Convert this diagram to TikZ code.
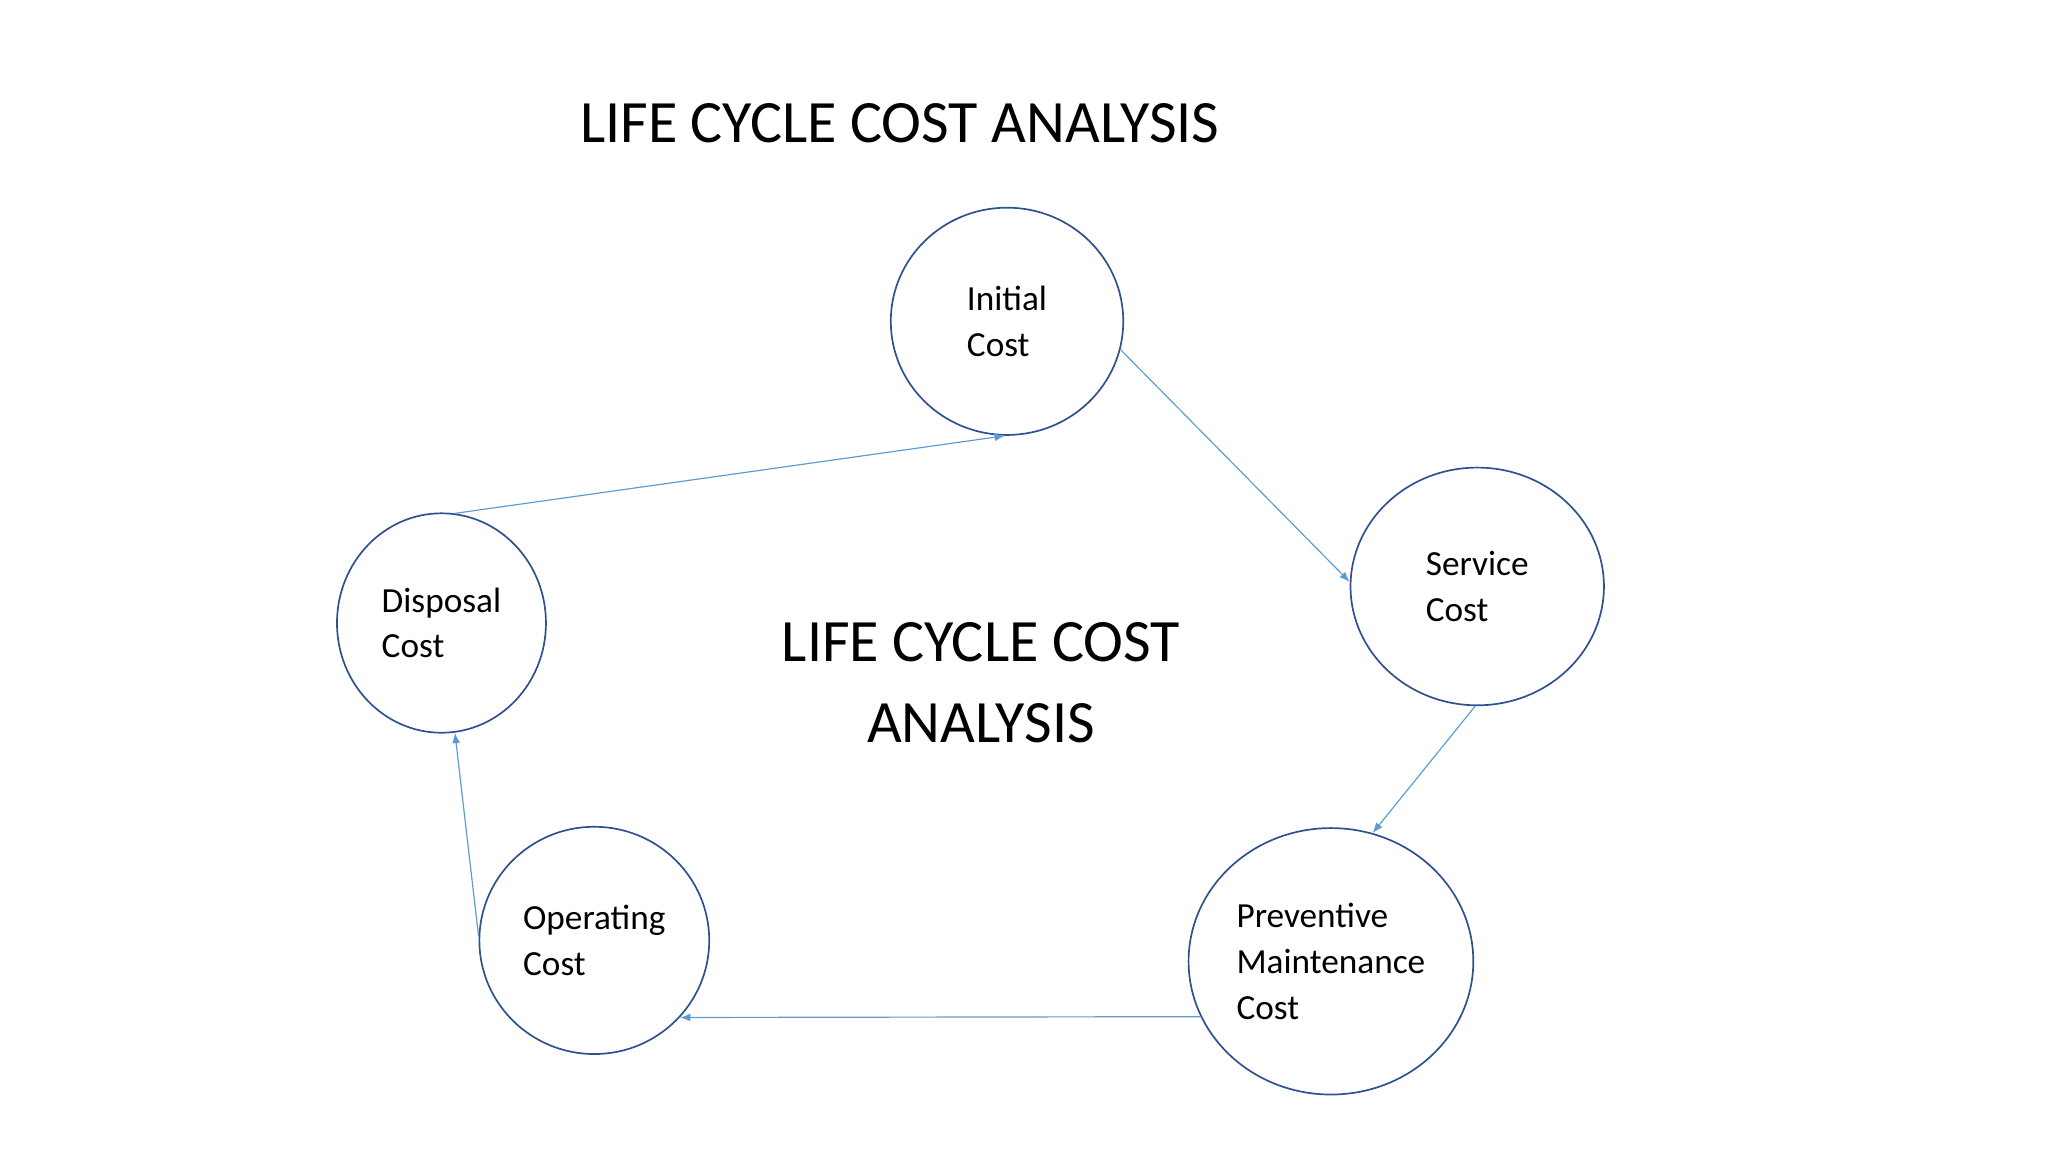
\documentclass[tikz,border=0pt]{standalone}
\usepackage{fontspec}
\setmainfont{Carlito}
\usetikzlibrary{shapes.geometric,arrows.meta}
\definecolor{ring}{RGB}{47,82,143}
\definecolor{conn}{RGB}{91,155,213}
\tikzset{
  costnode/.style={ellipse,draw=ring,line width=1.3pt,inner sep=0pt,align=left,font=\fontsize{27}{35}\selectfont},
  flow/.style={draw=conn,line width=0.9pt,-{Latex[length=8pt,width=6pt]}},
  bigtext/.style={font=\fontsize{46}{62}\selectfont,align=center}
}
\begin{document}
\begin{tikzpicture}[x=1pt,y=-1pt]
\useasboundingbox (0,0) rectangle (1568,882);
\node[bigtext,anchor=center] (title) at (689,94) {LIFE CYCLE COST ANALYSIS};
\node[bigtext] (center) at (751,523) {LIFE CYCLE COST\\ANALYSIS};
\node[costnode,minimum width=178pt,minimum height=174pt] (init) at (771,246) {Initial\\Cost};
\node[costnode,minimum width=194pt,minimum height=182pt] (serv) at (1131,449) {Service\\Cost};
\node[costnode,minimum width=218pt,minimum height=204pt] (prev) at (1019,736) {Preventive\\Maintenance\\Cost};
\node[costnode,minimum width=176pt,minimum height=174pt] (oper) at (455,720) {Operating\\Cost};
\node[costnode,minimum width=160pt,minimum height=168pt] (disp) at (338,477) {Disposal\\Cost};
\draw[flow] (init.-14) -- (serv.178);
\draw[flow] (serv.-91) -- (prev.72);
\draw[flow] (prev.-157) -- (oper.-42);
\draw[flow] (oper.178) -- (disp.-83);
\draw[flow] (disp.83) -- (init.-91);
\end{tikzpicture}
\end{document}
